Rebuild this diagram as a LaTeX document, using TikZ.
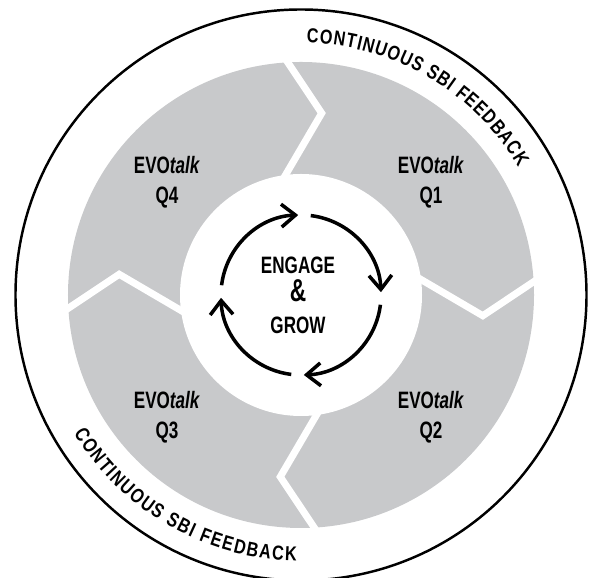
\documentclass[tikz,border=0pt]{standalone}
\usepackage{fontspec}
\setmainfont{Liberation Sans}[FakeStretch=0.72]
\newfontfamily\rimface{Liberation Sans}[FakeStretch=0.8]
\usetikzlibrary{decorations.text, arrows.meta}

\definecolor{ringgray}{RGB}{200,201,203}
\newcommand{\qfont}{\fontsize{13.5}{17}\selectfont\bfseries}
\newcommand{\rimfont}{\rimface\fontsize{11.5}{13}\selectfont\bfseries}

\begin{document}
\begin{tikzpicture}[scale=0.02,
    notch/.style={white, line width=4pt},
    turn/.style={line width=2pt, -{Straight Barb[length=8pt,width=13pt]}},
    qtext/.style={align=center, font=\qfont, inner sep=0pt}]
  \useasboundingbox (-301,-283) rectangle (288,295);

  % grey ring of the four quarters
  \fill[ringgray] (0,0) circle (233);
  \foreach \b in {0,90,180,270}
    \draw[notch] (\b+11:112) -- (\b-6.5:183) -- (\b+4.5:242);
  \fill[white] (0,0) circle (121);

  % engage and grow cycle
  \foreach \b in {0,90,180,270}
    \draw[turn] (\b+173:80) arc[start angle=\b+173, end angle=\b+92, radius=80];
  \node[qtext] (core) at (-3,0) {ENGAGE\\[-1pt]{\fontsize{18}{18}\selectfont\&}\\[1pt]GROW};

  % quarter labels
  \node[qtext] (q1) at (130,113) {EVO\textit{talk}\\Q1};
  \node[qtext] (q2) at (130,-122) {EVO\textit{talk}\\Q2};
  \node[qtext] (q3) at (-134,-122) {EVO\textit{talk}\\Q3};
  \node[qtext] (q4) at (-134,113) {EVO\textit{talk}\\Q4};

  % feedback rim
  \path[decorate, decoration={text along path, text align=fit to path,
      text={|\rimfont|CONTINUOUS SBI FEEDBACK}}]
    (88.7:252) arc[start angle=88.7, end angle=30.5, radius=252];
  \path[decorate, decoration={text along path, text align=fit to path,
      text={|\rimfont|CONTINUOUS SBI FEEDBACK}}]
    (211.3:266) arc[start angle=211.3, end angle=269, radius=266];
  \draw[line width=1.4pt] (0,0) circle (285.5);
\end{tikzpicture}
\end{document}
